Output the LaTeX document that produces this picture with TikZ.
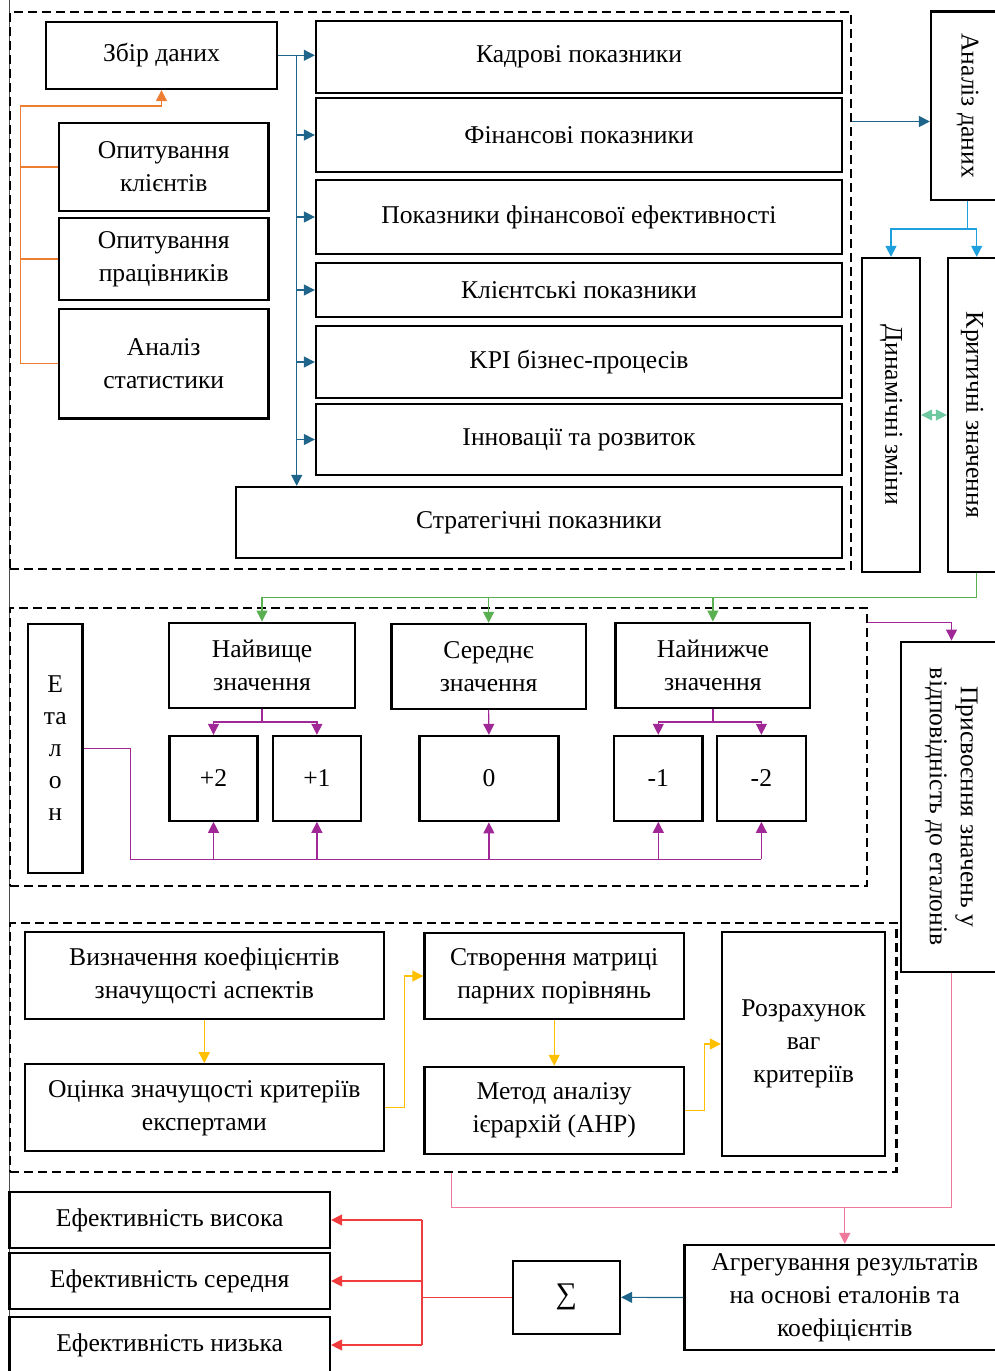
\documentclass[tikz,border=0pt]{standalone}
\usepackage{fontspec}
\setmainfont{Liberation Serif}
\usepackage{graphicx}
\usepackage{xcolor}
\usepackage{tikz}
\usetikzlibrary{arrows.meta}

\definecolor{orng}{RGB}{237,125,49}
\definecolor{tealb}{RGB}{31,100,138}
\definecolor{skyb}{RGB}{30,160,220}
\definecolor{mintg}{RGB}{110,200,160}
\definecolor{leafg}{RGB}{90,175,80}
\definecolor{plum}{RGB}{160,40,150}
\definecolor{amber}{RGB}{255,192,0}
\definecolor{rose}{RGB}{240,120,155}
\definecolor{scarlet}{RGB}{240,60,60}

\begin{document}
\begin{tikzpicture}[x=1pt, y=-1pt,
    >={Triangle[length=11pt,width=11pt]},
    blk/.style={draw, line width=2.3pt, fill=white, align=center, inner sep=0pt,
        font=\fontsize{25.6}{33}\selectfont},
    frm/.style={draw, line width=2.3pt, dash pattern=on 9pt off 5pt, inner sep=0pt},
    orln/.style={draw=orng, line width=1.2pt},
    blln/.style={draw=tealb, line width=1.2pt},
    lbln/.style={draw=skyb, line width=1.2pt},
    mnln/.style={draw=mintg, line width=1.2pt},
    grln/.style={draw=leafg, line width=1.2pt},
    ppln/.style={draw=plum, line width=1.2pt},
    ylln/.style={draw=amber, line width=1.2pt},
    pkln/.style={draw=rose, line width=1.2pt},
    rdln/.style={draw=scarlet, line width=1.2pt}]
    \useasboundingbox (0,0) rectangle (995,1371);
    \draw[black!70, line width=1pt] (9,0) -- (9,1371);

    % dashed frames
    \node[frm, minimum width=841, minimum height=557] (fr1) at (430.5,290.5) {};
    \node[frm, minimum width=857, minimum height=278] (fr2) at (438.5,747) {};
    \node[frm, minimum width=886.6, minimum height=248.4] (fr3) at (453.3,1047.5) {};

    % data collection
    \node[blk, minimum width=231.6, minimum height=67.3] (zbir) at (161.5,55.3) {Збір даних};
    \node[blk, minimum width=209.3, minimum height=87.4] (klient) at (163.7,167) {Опитування\\клієнтів};
    \node[blk, minimum width=209.3, minimum height=81.4] (prac) at (163.7,259) {Опитування\\працівників};
    \node[blk, minimum width=209.3, minimum height=109.3] (stat) at (163.7,363.7) {Аналіз\\статистики};

    % indicators
    \node[blk, minimum width=526, minimum height=72] (kadr) at (579,57) {Кадрові показники};
    \node[blk, minimum width=526, minimum height=74] (fin) at (579,135) {Фінансові показники};
    \node[blk, minimum width=526, minimum height=74] (efek) at (579,217) {Показники фінансової ефективності};
    \node[blk, minimum width=526, minimum height=54] (klp) at (579,290) {Клієнтські показники};
    \node[blk, minimum width=526, minimum height=72] (kpi) at (579,362) {KPI бізнес-процесів};
    \node[blk, minimum width=526, minimum height=71] (inn) at (579,439.5) {Інновації та розвиток};
    \node[blk, minimum width=606, minimum height=71] (strat) at (539,522.5) {Стратегічні показники};

    % analysis
    \node[blk, minimum width=73, minimum height=188.5] (an) at (967.5,105.7) {\rotatebox{-90}{Аналіз даних}};
    \node[blk, minimum width=58, minimum height=314] (dyn) at (891,415) {\rotatebox{-90}{Динамічні зміни}};
    \node[blk, minimum width=48, minimum height=314] (krit) at (972,415) {\rotatebox{-90}{Критичні значення}};

    % etalons
    \node[blk, minimum width=54.5, minimum height=249, font=\fontsize{25.6}{32}\selectfont] (etal) at (55.2,748.5) {Е\\та\\л\\о\\н};
    \node[blk, minimum width=186, minimum height=85] (hv) at (262,665.2) {Найвище\\значення};
    \node[blk, minimum width=194.2, minimum height=84.7] (ser) at (488.6,666.3) {Середнє\\значення};
    \node[blk, minimum width=194.8, minimum height=85] (low) at (712.9,665.2) {Найнижче\\значення};
    \node[blk, minimum width=88.2, minimum height=84.7] (p2) at (213.5,778.3) {+2};
    \node[blk, minimum width=88.2, minimum height=84.7] (p1) at (316.9,778.3) {+1};
    \node[blk, minimum width=139, minimum height=85.3] (z0) at (488.9,778.6) {0};
    \node[blk, minimum width=88.2, minimum height=84.7] (m1) at (658.3,778.3) {-1};
    \node[blk, minimum width=88.8, minimum height=84.7] (m2) at (761.4,778.3) {-2};
    \node[blk, minimum width=101, minimum height=330, font=\fontsize{25.6}{31}\selectfont] (prys) at (951.5,806.7)
        {\rotatebox{-90}{\begin{tabular}{@{}c@{}}Присвоєння значень у\\відповідність до еталонів\end{tabular}}};

    % weights
    \node[blk, minimum width=359.2, minimum height=87] (vyz) at (204.3,975.8) {Визначення коефіцієнтів\\значущості аспектів};
    \node[blk, minimum width=359.2, minimum height=87] (otsin) at (204.3,1107.8) {Оцінка значущості критеріїв\\експертами};
    \node[blk, minimum width=259.5, minimum height=86.6] (stv) at (554.2,976) {Створення матриці\\парних порівнянь};
    \node[blk, minimum width=259.5, minimum height=86.7] (met) at (554.2,1110.3) {Метод аналізу\\ієрархій (AHP)};
    \node[blk, minimum width=163.2, minimum height=223.4] (rozr) at (803.6,1044) {Розрахунок\\ваг\\критеріїв};

    % result
    \node[blk, minimum width=320.5, minimum height=55.4] (vys) at (169.7,1220) {Ефективність висока};
    \node[blk, minimum width=320.5, minimum height=55.4] (sered) at (169.7,1281) {Ефективність середня};
    \node[blk, minimum width=320.5, minimum height=56] (nyz) at (169.7,1345) {Ефективність низька};
    \node[blk, minimum width=107.3, minimum height=73.3, font=\fontsize{30}{33}\selectfont] (sum) at (566.3,1297.3) {∑};
    \node[blk, minimum width=320.4, minimum height=105] (agr) at (844.8,1297.5) {Агрегування результатів\\на основі еталонів та\\коефіцієнтів};

    % connectors
    \coordinate (oj) at (20.7,106);
    \draw[orln] (klient.west) -- (klient.west -| oj);
    \draw[orln] (prac.west) -- (prac.west -| oj);
    \draw[orln,->] (stat.west) -| (oj) -| (zbir.south);

    \coordinate (bj) at (296.7,0);
    \draw[blln,->] (zbir.east) -- (zbir.east -| kadr.west);
    \draw[blln,->] (zbir.east -| bj) -- (bj |- strat.north);
    \foreach \n in {fin,efek,klp,kpi,inn}
        \draw[blln,->] (\n.west -| bj) -- (\n.west);
    \coordinate (ay) at (0,121.5);
    \draw[blln,->] (fr1.east |- ay) -- (an.west |- ay);

    \coordinate (lbj) at (967.5,229);
    \draw[lbln] (an.south) -- (lbj);
    \draw[lbln,->] (lbj) -| (dyn.north);
    \draw[lbln,->] (lbj) -| ([xshift=4.7]krit.north);
    \draw[mnln,<->] (dyn.east) -- (krit.west);

    \coordinate (gy) at (0,597.3);
    \draw[grln,->] ([xshift=4.7]krit.south) |- (hv.north |- gy) -- (hv.north);
    \draw[grln,->] (ser.north |- gy) -- (ser.north);
    \draw[grln,->] (low.north |- gy) -- (low.north);

    \coordinate (py) at (0,722);
    \draw[ppln] (hv.south) -- (hv.south |- py);
    \draw[ppln,->] (hv.south |- py) -| (p2.north);
    \draw[ppln,->] (hv.south |- py) -| (p1.north);
    \draw[ppln,->] (ser.south) -- (z0.north);
    \draw[ppln] (low.south) -- (low.south |- py);
    \draw[ppln,->] (low.south |- py) -| (m1.north);
    \draw[ppln,->] (low.south |- py) -| (m2.north);
    \coordinate (ex) at (130.7,859.3);
    \draw[ppln] (etal.east) -| (ex) -- (ex -| m2.south);
    \foreach \n in {p2,p1,z0,m1,m2}
        \draw[ppln,->] (ex -| \n.south) -- (\n.south);
    \coordinate (pry) at (0,622.7);
    \draw[ppln,->] (fr2.east |- pry) -| (prys.north);

    \draw[ylln,->] (vyz.south) -- (otsin.north);
    \draw[ylln,->] (otsin.east) -- ++(19.7,0) |- (stv.west);
    \draw[ylln,->] (stv.south) -- (met.north);
    \draw[ylln,->] (met.east) -- ++(19,0) |- (rozr.west);

    \coordinate (pkx) at (451.8,1207.3);
    \draw[pkln] (pkx |- fr3.south) -- (pkx) -| (prys.south);
    \draw[pkln,->] (agr.north |- pkx) -- (agr.north);

    \draw[blln,->] (agr.west) -- (sum.east);
    \coordinate (rx) at (422,0);
    \draw[rdln] (sum.west) -- (sum.west -| rx);
    \draw[rdln] (rx |- vys.east) -- (rx |- nyz.east);
    \foreach \n in {vys,sered,nyz}
        \draw[rdln,->] (rx |- \n.east) -- (\n.east);
\end{tikzpicture}
\end{document}
